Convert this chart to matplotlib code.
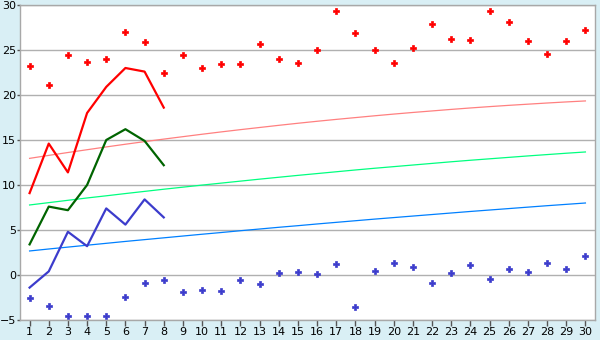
#!/usr/bin/env python3
# plot.py - three series with upper/lower scatter bands and trend lines
import numpy as np
import matplotlib.pyplot as plt

x_all = list(range(1, 31))
x_first = list(range(1, 9))

# main lines (first 8 points only)
red_line = [9.1, 14.6, 11.4, 18.0, 20.9, 23.0, 22.6, 18.6]
green_line = [3.4, 7.6, 7.2, 10.0, 15.0, 16.2, 14.9, 12.2]
blue_line = [-1.4, 0.4, 4.8, 3.2, 7.4, 5.6, 8.4, 6.4]

# upper (red) and lower (blue) point bands
red_pts = [23.2, 21.1, 24.5, 23.7, 24.0, 27.0, 25.9, 22.5, 24.5, 23.0,
           23.5, 23.4, 25.7, 24.0, 23.6, 25.0, 29.3, 26.9, 25.0, 23.6,
           25.2, 27.9, 26.2, 26.1, 29.3, 28.1, 26.0, 24.6, 26.0, 27.2]
blue_pts = [-2.5, -3.4, -4.5, -4.5, -4.5, -2.4, -0.9, -0.5, -1.9, -1.7,
            -1.8, -0.5, -1.0, 0.2, 0.3, 0.1, 1.2, -3.6, 0.5, 1.3,
            0.9, -0.9, 0.2, 1.1, -0.4, 0.7, 0.3, 1.3, 0.7, 2.1]

# trend lines
pink_trend = [12.96, 13.29, 13.61, 13.92, 14.23, 14.53, 14.82, 15.10, 15.37, 15.64,
              15.90, 16.15, 16.39, 16.63, 16.86, 17.08, 17.29, 17.49, 17.69, 17.88,
              18.06, 18.23, 18.40, 18.56, 18.71, 18.85, 18.98, 19.11, 19.23, 19.34]
lime_trend = [7.78, 8.04, 8.30, 8.56, 8.80, 9.05, 9.29, 9.53, 9.76, 9.99,
              10.21, 10.43, 10.65, 10.86, 11.07, 11.27, 11.47, 11.67, 11.86, 12.04,
              12.22, 12.40, 12.58, 12.75, 12.91, 13.07, 13.23, 13.38, 13.53, 13.67]
sky_trend = [2.67, 2.89, 3.10, 3.31, 3.52, 3.73, 3.93, 4.13, 4.33, 4.53,
             4.72, 4.92, 5.11, 5.30, 5.48, 5.67, 5.85, 6.03, 6.21, 6.38,
             6.55, 6.72, 6.89, 7.06, 7.22, 7.38, 7.54, 7.70, 7.85, 8.00]

y_ticks = [-5, 0, 5, 10, 15, 20, 25, 30]

fig = plt.figure(figsize=(6, 3.4), dpi=100, facecolor="#d9eff5")
ax = fig.add_axes([20 / 600, 20 / 340, 575 / 600, 315 / 340])
ax.set_facecolor("white")

ax.set_yticks(y_ticks)
ax.yaxis.grid(True, color="#b0b0b0", linewidth=1.0)
ax.set_axisbelow(True)

ax.plot(x_all, pink_trend, color="#ff8080", linewidth=0.9)
ax.plot(x_all, lime_trend, color="#00ff80", linewidth=0.9)
ax.plot(x_all, sky_trend, color="#0080ff", linewidth=0.9)

ax.plot(x_first, red_line, color="#ff0000", linewidth=1.6)
ax.plot(x_first, green_line, color="#006400", linewidth=1.6)
ax.plot(x_first, blue_line, color="#3c3ccc", linewidth=1.6)

# chunky plus markers, like the pixel crosses in the original
ax.plot(x_all, red_pts, linestyle="none", marker="P", markersize=4.6,
        color="#ff0000", markeredgecolor="#ff0000", markeredgewidth=0.5)
ax.plot(x_all, blue_pts, linestyle="none", marker="P", markersize=4.6,
        color="#3c3ccc", markeredgecolor="#3c3ccc", markeredgewidth=0.5)

ax.set_xlim(0.5, 30.5)
ax.set_ylim(-5, 30)
ax.set_xticks(x_all)

for s in ax.spines.values():
    s.set_color("#a8a8a8")
    s.set_linewidth(1.0)

ax.tick_params(axis="y", length=2, width=1, color="#555555", pad=1, labelsize=8)
ax.tick_params(axis="x", length=4, width=1, color="#555555", pad=1, labelsize=8)

fig.savefig("out.png", dpi=100, facecolor=fig.get_facecolor())
